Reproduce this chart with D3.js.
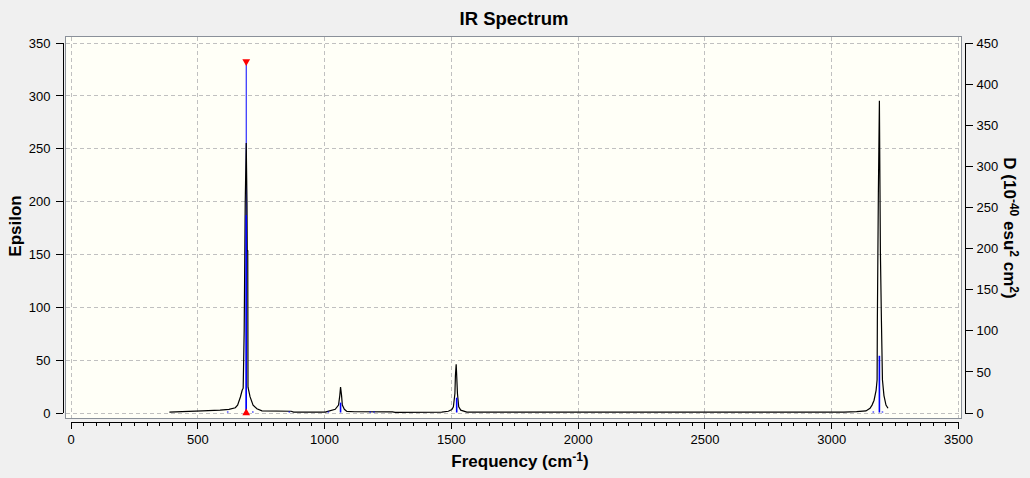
<!DOCTYPE html>
<html>
<head>
<meta charset="utf-8">
<script src="https://cdn.jsdelivr.net/npm/d3@7"></script>
<style>
  body { margin: 0; background: #f0f0f0; }
  svg text { font-family: "Liberation Sans", Arial, sans-serif; }
</style>
</head>
<body>
<svg id="chart" width="1030" height="478"></svg>
<script>
// tick values
var freqTicks = [0, 500, 1000, 1500, 2000, 2500, 3000, 3500];
var epsTicks = [0, 50, 100, 150, 200, 250, 300, 350];
var dTicks = [0, 50, 100, 150, 200, 250, 300, 350, 400, 450];

// broadened spectrum (black curve)
var curveFreq = [390, 440, 520, 590, 625, 650, 659, 670, 677, 681, 683, 685, 686, 689, 693, 696, 697, 699, 700, 708, 720, 735, 755, 870, 880,
                 1005, 1011, 1044, 1057, 1062, 1065, 1069, 1072, 1080, 1090, 1120, 1270, 1280,
                 1464, 1490, 1504, 1510, 1516, 1518, 1521, 1523, 1526, 1531, 1539, 1563,
                 3050, 3100, 3137, 3153, 3161, 3169, 3177, 3181, 3182, 3186, 3190, 3194, 3198, 3202, 3208, 3216, 3224];
var curveEps  = [0.3, 0.8, 1.5, 2.2, 3.0, 4.5, 7, 14.7, 21, 23, 50, 78, 108, 198, 255, 198, 153, 153, 24, 15, 7, 3.5, 1.5, 1.2, 0.3,
                 0.3, 0.8, 3, 7, 16, 24, 16, 7, 3, 1, 0.7, 0.6, 0.2,
                 0.3, 1.2, 2.8, 5.3, 18, 35, 45.7, 35, 18, 5.3, 2.2, 0.3,
                 0.3, 0.8, 1.5, 4, 7, 11.6, 21, 31, 87, 209, 295, 151, 87, 31, 16, 7, 4];

// dipole strengths (blue sticks, right axis)
var stickFreq = [620, 693, 719, 863, 1017, 1065, 1182, 1197, 1523, 3166, 3190, 3202];
var stickD    = [1.2, 240, 1.2, 1.2, 1.2, 12, 1.2, 1.2, 18, 1.2, 69, 1.2];

// selected peak marker
var selFreq = 693;
var selTop = 333;

var svg = d3.select('#chart');

var plotLeft = 65, plotTop = 36, plotRight = 961, plotBottom = 418;

var x = d3.scaleLinear().domain([0, 3500]).range([70.5, 958]);
var yL = d3.scaleLinear().domain([0, 350]).range([412.5, 42.5]);
var yR = d3.scaleLinear().domain([0, 450]).range([412.5, 42.5]);
var fmt = d3.format('d');

// plot area
svg.append('rect')
  .attr('x', plotLeft + 0.5).attr('y', plotTop + 0.5)
  .attr('width', plotRight - plotLeft).attr('height', plotBottom - plotTop)
  .attr('fill', '#fffff7')
  .attr('stroke', '#8a9099')
  .attr('shape-rendering', 'crispEdges');

// grid
var grid = svg.append('g')
  .attr('stroke', '#c0c0c0')
  .attr('stroke-dasharray', '4,3')
  .attr('shape-rendering', 'crispEdges');

grid.selectAll('.gx').data(freqTicks).enter().append('line')
  .attr('x1', function(d) { return Math.round(x(d)) + 0.5; })
  .attr('x2', function(d) { return Math.round(x(d)) + 0.5; })
  .attr('y1', plotTop + 1).attr('y2', plotBottom);

grid.selectAll('.gy').data(epsTicks).enter().append('line')
  .attr('x1', plotLeft + 1).attr('x2', plotRight)
  .attr('y1', function(d) { return Math.round(yL(d)) + 0.5; })
  .attr('y2', function(d) { return Math.round(yL(d)) + 0.5; });

// selection marker line
svg.append('line')
  .attr('x1', x(selFreq)).attr('x2', x(selFreq))
  .attr('y1', yL(selTop)).attr('y2', yL(0))
  .attr('stroke', '#0000ff').attr('stroke-width', 1);

// black curve
var pts = curveFreq.map(function(f, i) { return [f, curveEps[i]]; });
var line = d3.line()
  .x(function(d) { return x(d[0]); })
  .y(function(d) { return yL(d[1]); });

svg.append('path')
  .datum(pts)
  .attr('d', line)
  .attr('fill', 'none')
  .attr('stroke', '#000')
  .attr('stroke-width', 1.2);

// blue sticks
svg.selectAll('.stick').data(stickFreq).enter().append('line')
  .attr('x1', function(d) { return x(d); })
  .attr('x2', function(d) { return x(d); })
  .attr('y1', yR(0))
  .attr('y2', function(d, i) { return yR(stickD[i]); })
  .attr('stroke', '#0000ff')
  .attr('stroke-width', 1.6);

// red triangles
var tri = d3.symbol().type(d3.symbolTriangle).size(26);
svg.append('path')
  .attr('d', tri())
  .attr('transform', 'translate(' + x(selFreq) + ',' + (yL(selTop) + 1) + ') rotate(180)')
  .attr('fill', '#ff0000');
svg.append('path')
  .attr('d', tri())
  .attr('transform', 'translate(' + x(selFreq) + ',' + (yL(0) + 0.5) + ')')
  .attr('fill', '#ff0000');

// axes
function styleAxis(g, size) {
  g.selectAll('path.domain').attr('stroke', '#000').attr('shape-rendering', 'crispEdges');
  g.selectAll('.tick line').attr('stroke', '#000').attr('shape-rendering', 'crispEdges');
  g.selectAll('.tick text').attr('fill', '#000').style('font-size', size + 'px');
}

var leftAxis = svg.append('g')
  .attr('transform', 'translate(62.5,0)')
  .call(d3.axisLeft(yL).tickValues(epsTicks).tickFormat(fmt).tickSize(7).tickSizeOuter(0).tickPadding(5));
styleAxis(leftAxis, 13);
leftAxis.selectAll('.tick text').attr('dy', '0.36em');

var rightAxis = svg.append('g')
  .attr('transform', 'translate(964.5,0)')
  .call(d3.axisRight(yR).tickValues(dTicks).tickFormat(fmt).tickSize(8).tickSizeOuter(0).tickPadding(4));
styleAxis(rightAxis, 13);
rightAxis.selectAll('.tick text').attr('dy', '0.36em');

var minorTicks = d3.range(0, 3501, 50);
var minorAxis = svg.append('g')
  .attr('transform', 'translate(0,421.5)')
  .call(d3.axisBottom(x).tickValues(minorTicks).tickSize(4).tickSizeOuter(0).tickFormat(''));
styleAxis(minorAxis, 13);

var bottomAxis = svg.append('g')
  .attr('transform', 'translate(0,421.5)')
  .call(d3.axisBottom(x).tickValues(freqTicks).tickFormat(fmt).tickSize(7).tickSizeOuter(0).tickPadding(6));
styleAxis(bottomAxis, 13);

// titles
svg.append('text')
  .attr('x', 514).attr('y', 25)
  .attr('text-anchor', 'middle')
  .style('font-size', '18.5px').style('font-weight', 'bold')
  .text('IR Spectrum');

var xl = svg.append('text')
  .attr('x', 520).attr('y', 467)
  .attr('text-anchor', 'middle')
  .style('font-size', '17px').style('font-weight', 'bold');
xl.append('tspan').text('Frequency (cm');
xl.append('tspan').attr('dy', -6).style('font-size', '12px').text('-1');
xl.append('tspan').attr('dy', 6).text(')');

svg.append('text')
  .attr('transform', 'translate(21,226) rotate(-90)')
  .attr('text-anchor', 'middle')
  .style('font-size', '17px').style('font-weight', 'bold')
  .text('Epsilon');

var rl = svg.append('text')
  .attr('transform', 'translate(1004,228) rotate(90)')
  .attr('text-anchor', 'middle')
  .style('font-size', '17px').style('font-weight', 'bold');
rl.append('tspan').text('D (10');
rl.append('tspan').attr('dy', -6).style('font-size', '12px').text('-40');
rl.append('tspan').attr('dy', 6).text(' esu');
rl.append('tspan').attr('dy', -6).style('font-size', '12px').text('2');
rl.append('tspan').attr('dy', 6).text(' cm');
rl.append('tspan').attr('dy', -6).style('font-size', '12px').text('2');
rl.append('tspan').attr('dy', 6).text(')');
</script>
</body>
</html>
